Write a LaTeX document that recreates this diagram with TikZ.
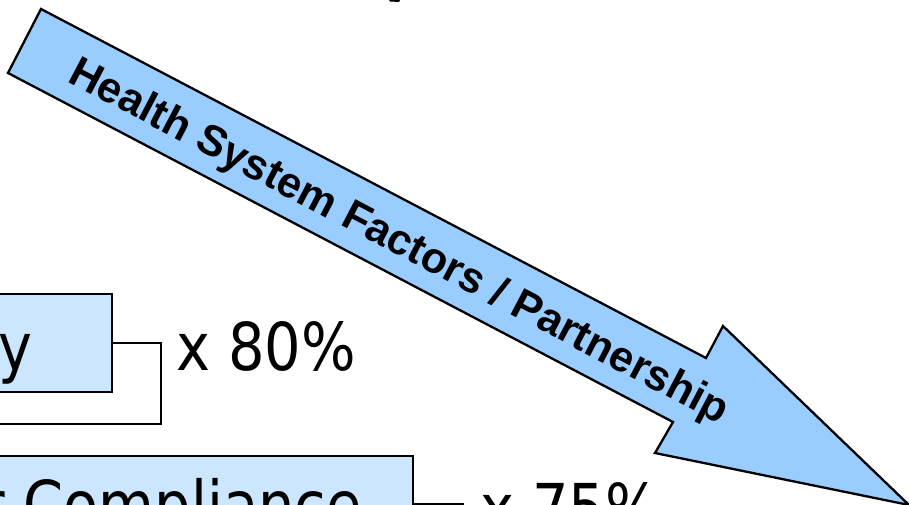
\documentclass[tikz,border=0pt]{standalone}
\usepackage{fontspec}
\setmainfont{DejaVu Sans}
\newfontfamily\boxfont[FakeStretch=0.87]{DejaVu Sans}
\newfontfamily\arrowfont{Liberation Sans}
\definecolor{arrowblue}{RGB}{153,204,255}
\definecolor{boxblue}{RGB}{204,230,255}
\tikzset{
  bigarrow/.style={draw=black, line width=2.3pt, fill=arrowblue, line join=miter},
  factorbox/.style={draw=black, line width=1.6pt, fill=boxblue},
  bracketline/.style={draw=black, line width=1.6pt},
  boxtext/.style={font=\boxfont\fontsize{66}{72}\selectfont, inner sep=0pt, anchor=base east},
  pcttext/.style={font=\boxfont\fontsize{66}{72}\selectfont, inner sep=0pt, anchor=base west},
  arrowtext/.style={font=\arrowfont\bfseries\fontsize{43}{47}\selectfont, inner sep=0pt, rotate=-27.69}
}
\begin{document}
\begin{tikzpicture}[x=1pt,y=-1pt]
\useasboundingbox (0,0) rectangle (909,505);
\clip (0,0) rectangle (909,505);
% top fragment
\fill[black] (389,0) -- (400,0) -- (399,2) -- (390,1.5) -- cycle;
% boxes
\path[factorbox] (-20,294) rectangle (112,392);
\coordinate (boxAe) at (112,343);
\node[boxtext] (ytext) at (33,370) {y};
\path[factorbox] (-20,456) rectangle (413,554);
\coordinate (boxBe) at (413,504);
\node[boxtext] (ctext) at (362,528) {r Compliance};
% brackets
\coordinate (brA1) at (161,343);
\coordinate (brA2) at (161,424);
\coordinate (brA3) at (-20,424);
\draw[bracketline] (boxAe) -- (brA1) -- (brA2) -- (brA3);
\coordinate (brB1) at (463,504);
\coordinate (brB2) at (463,600);
\draw[bracketline] (boxBe) -- (brB1) -- (brB2);
% percentages
\node[pcttext] (p80) at (176,370) {x 80\%};
\node[pcttext] (p75) at (480,531) {x 75\%};
% big arrow
\path[bigarrow] (41,9) -- (706,358) -- (723,326) -- (909,505) -- (655,453) -- (673,422) -- (8,73) -- cycle;
\node[arrowtext] (atext) at (398.5,243) {Health System Factors / Partnership};
\end{tikzpicture}
\end{document}
